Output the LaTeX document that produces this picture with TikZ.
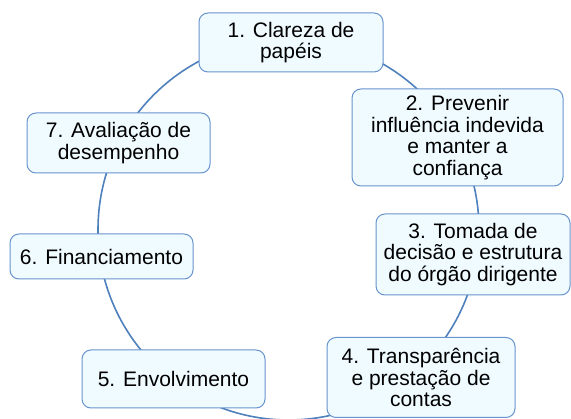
\documentclass[tikz,border=0pt]{standalone}
\usepackage{fontspec}
\setmainfont{Liberation Sans}
\definecolor{cycline}{RGB}{79,129,189}
\definecolor{boxline}{RGB}{104,148,206}
\definecolor{boxfill}{RGB}{240,251,255}
\tikzset{
  cyc/.style={draw=cycline, line width=1.6pt},
  stagebox/.style={draw=boxline, fill=boxfill, line width=1pt, rounded corners=9pt,
    align=center, inner sep=0pt, font=\fontsize{21}{21.5}\selectfont, text=black}
}
\begin{document}
\begin{tikzpicture}[x=1pt,y=-1pt]
\useasboundingbox (0,0) rectangle (571,419);
\fill[white] (0,0) rectangle (571,419);
\coordinate (c) at (288.5,229.5);
\draw[cyc] (c) circle[radius=190.5];
\node[stagebox, minimum width=184pt, minimum height=59pt] (n1) at (291,42.5) {1. Clareza de\\papéis};
\node[stagebox, minimum width=211pt, minimum height=97pt] (n2) at (457.5,137.5) {2. Prevenir\\influência indevida\\e manter a\\confiança};
\node[stagebox, minimum width=194pt, minimum height=81pt] (n3) at (473,254.5) {3. Tomada de\\decisão e estrutura\\do órgão dirigente};
\node[stagebox, minimum width=188pt, minimum height=80pt] (n4) at (421,377.5) {4. Transparência\\e prestação de\\contas};
\node[stagebox, minimum width=183pt, minimum height=58pt] (n5) at (173.5,379) {5. Envolvimento};
\node[stagebox, minimum width=183pt, minimum height=45pt] (n6) at (101.5,256.5) {6. Financiamento};
\node[stagebox, minimum width=183pt, minimum height=60pt] (n7) at (118.5,143) {7. Avaliação de\\desempenho};
\end{tikzpicture}
\end{document}
